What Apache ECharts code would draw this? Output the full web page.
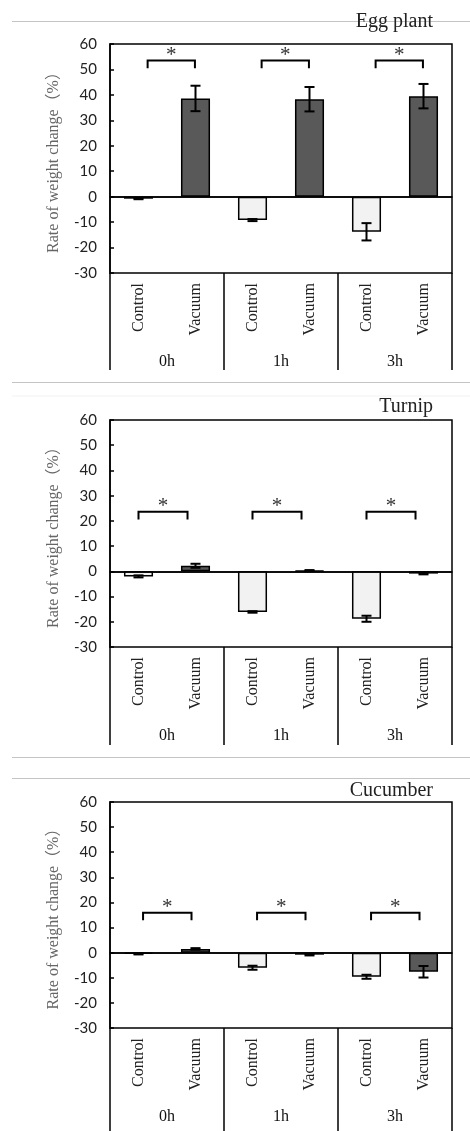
<!DOCTYPE html>
<html>
<head>
<meta charset="utf-8">
<script src="https://cdn.jsdelivr.net/npm/echarts@6/dist/echarts.min.js"></script>
<style>
html,body{margin:0;padding:0;background:#fff;}
#main{width:470px;height:1131px;}
</style>
</head>
<body>
<div id="main"></div>
<script>
// categories
var groups = ['0h', '1h', '3h'];
var treatments = ['Control', 'Vacuum'];
var panelNames = ['Egg plant', 'Turnip', 'Cucumber'];
var yTicks = [-30, 60, 10]; // min, max, interval

// Egg plant
var eggControl = [-0.8, -9.2, -13.8];
var eggControlErr = [0.2, 0.4, 3.4];
var eggVacuum = [38.6, 38.3, 39.5];
var eggVacuumErr = [5.0, 4.8, 4.8];
var eggSig = [53.5, 53.5, 53.5];

// Turnip
var turnipControl = [-2.0, -16.1, -18.8];
var turnipControlErr = [0.4, 0.3, 1.2];
var turnipVacuum = [2.2, 0.3, -0.9];
var turnipVacuumErr = [0.8, 0.2, 0.3];
var turnipSig = [23.6, 23.6, 23.6];

// Cucumber
var cucControl = [-0.5, -6.0, -9.6];
var cucControlErr = [0.2, 0.8, 0.8];
var cucVacuum = [1.5, -0.8, -7.6];
var cucVacuumErr = [0.3, 0.3, 2.3];
var cucSig = [15.9, 15.9, 15.9];

var panels = [
    {name: panelNames[0], ctrl: eggControl, ctrlErr: eggControlErr, vac: eggVacuum, vacErr: eggVacuumErr, sig: eggSig,
     top: 44, height: 229, tick: 97, titleTop: 7, inset: [0.16, -0.01]},
    {name: panelNames[1], ctrl: turnipControl, ctrlErr: turnipControlErr, vac: turnipVacuum, vacErr: turnipVacuumErr, sig: turnipSig,
     top: 420, height: 227, tick: 98, titleTop: 392, inset: [0.0, -0.14]},
    {name: panelNames[2], ctrl: cucControl, ctrlErr: cucControlErr, vac: cucVacuum, vacErr: cucVacuumErr, sig: cucSig,
     top: 802, height: 226, tick: 103, titleTop: 776, inset: [0.08, -0.07]}
];

var SERIF = '"Liberation Serif", "Noto Sans CJK JP", serif';
var CTRL_COLOR = '#f2f2f2';
var VAC_COLOR = '#595959';

var option = {
    animation: false,
    backgroundColor: '#fff',
    title: [],
    grid: [],
    xAxis: [],
    yAxis: [],
    series: [],
    graphic: [
        // separators between panels
        {type: 'line', shape: {x1: 12, y1: 21.5, x2: 470, y2: 21.5}, style: {stroke: '#c4c4c4', lineWidth: 1}, z: 0},
        {type: 'line', shape: {x1: 12, y1: 382.5, x2: 470, y2: 382.5}, style: {stroke: '#c4c4c4', lineWidth: 1}, z: 0},
        {type: 'line', shape: {x1: 12, y1: 396, x2: 470, y2: 396}, style: {stroke: '#f2f2f2', lineWidth: 1}, z: 0},
        {type: 'line', shape: {x1: 12, y1: 757.5, x2: 470, y2: 757.5}, style: {stroke: '#c4c4c4', lineWidth: 1}, z: 0},
        {type: 'line', shape: {x1: 12, y1: 778.5, x2: 470, y2: 778.5}, style: {stroke: '#c4c4c4', lineWidth: 1}, z: 0}
    ]
};

panels.forEach(function (p, i) {
    var cats = [];
    var barData = [];
    var errData = [];
    for (var g = 0; g < groups.length; g++) {
        cats.push(groups[g] + '-' + treatments[0]);
        cats.push(groups[g] + '-' + treatments[1]);
        barData.push({value: p.ctrl[g], itemStyle: {color: CTRL_COLOR}});
        barData.push({value: p.vac[g], itemStyle: {color: VAC_COLOR}});
        errData.push([g * 2, p.ctrl[g], p.ctrlErr[g]]);
        errData.push([g * 2 + 1, p.vac[g], p.vacErr[g]]);
    }
    var sigData = p.sig.map(function (v, g) { return [g, v]; });

    option.title.push({
        text: p.name, right: 32, top: p.titleTop,
        textStyle: {fontFamily: SERIF, fontSize: 20, fontWeight: 'normal', color: '#222'}
    });
    option.grid.push({
        left: 110, right: 18, top: p.top, height: p.height,
        show: true, borderColor: '#000', borderWidth: 1.5, backgroundColor: 'transparent'
    });
    // sub categories (Control / Vacuum)
    option.xAxis.push({
        type: 'category', gridIndex: i, data: cats, position: 'bottom',
        axisLine: {show: true, lineStyle: {color: '#000', width: 1.5}},
        axisTick: {show: false},
        axisLabel: {
            interval: 0, rotate: 90, margin: 10,
            fontFamily: SERIF, fontSize: 16, color: '#222',
            formatter: function (v) { return v.split('-')[1]; }
        }
    });
    // groups (0h / 1h / 3h)
    option.xAxis.push({
        type: 'category', gridIndex: i, data: groups, position: 'bottom',
        axisLine: {show: false},
        axisTick: {show: true, interval: 0, length: p.tick, lineStyle: {color: '#000', width: 1.5}},
        axisLabel: {interval: 0, margin: 81, fontFamily: SERIF, fontSize: 16, color: '#111'}
    });
    option.yAxis.push({
        type: 'value', gridIndex: i, min: yTicks[0], max: yTicks[1], interval: yTicks[2],
        name: 'Rate of weight change（%）', nameLocation: 'middle', nameGap: 48,
        nameTextStyle: {fontFamily: SERIF, fontSize: 16, color: '#666'},
        axisLine: {show: true, lineStyle: {color: '#000', width: 1.5}},
        axisTick: {show: true, inside: true, length: 4, lineStyle: {color: '#000', width: 1.5}},
        axisLabel: {margin: 13, fontFamily: 'Lato, sans-serif', fontSize: 15, color: '#222'},
        splitLine: {show: false}
    });

    var xIdx = i * 2;
    option.series.push({
        type: 'bar', xAxisIndex: xIdx, yAxisIndex: i, data: barData,
        barWidth: '51%',
        itemStyle: {borderColor: '#000', borderWidth: 1.5},
        markLine: {
            silent: true, symbol: 'none', label: {show: false},
            lineStyle: {color: '#000', type: 'solid', width: 1.5},
            data: [{yAxis: 0}]
        },
        z: 2
    });
    // error bars
    option.series.push({
        type: 'custom', xAxisIndex: xIdx, yAxisIndex: i, data: errData, z: 4,
        renderItem: function (params, api) {
            var x = api.value(0), v = api.value(1), e = api.value(2);
            var hi = api.coord([x, v + e]);
            var lo = api.coord([x, v - e]);
            var cap = 5;
            var st = {stroke: '#000', lineWidth: 2};
            return {type: 'group', children: [
                {type: 'line', shape: {x1: hi[0], y1: hi[1], x2: lo[0], y2: lo[1]}, style: st},
                {type: 'line', shape: {x1: hi[0] - cap, y1: hi[1], x2: hi[0] + cap, y2: hi[1]}, style: st},
                {type: 'line', shape: {x1: lo[0] - cap, y1: lo[1], x2: lo[0] + cap, y2: lo[1]}, style: st}
            ]};
        }
    });
    // significance brackets
    option.series.push({
        type: 'custom', xAxisIndex: xIdx, yAxisIndex: i, data: sigData, z: 4,
        renderItem: (function (inset) {
            return function (params, api) {
                var g = api.value(0), v = api.value(1);
                var w = api.size([1, 0])[0];
                var a = api.coord([g * 2, v]);
                var b = api.coord([g * 2 + 1, v]);
                var l = a[0] + inset[0] * w, r = b[0] + inset[1] * w;
                var drop = api.coord([g * 2, v - 3])[1];
                return {type: 'group', children: [
                    {type: 'polyline', shape: {points: [[l, drop], [l, a[1]], [r, a[1]], [r, drop]]},
                     style: {stroke: '#000', lineWidth: 2, fill: null}},
                    {type: 'text', x: (l + r) / 2, y: a[1] - 5,
                     style: {text: '*', font: '21px ' + SERIF, fill: '#333', align: 'center', verticalAlign: 'middle'}}
                ]};
            };
        })(p.inset)
    });
});

var chart = echarts.init(document.getElementById('main'), null, {width: 470, height: 1131, renderer: 'canvas'});
chart.setOption(option);
</script>
</body>
</html>
